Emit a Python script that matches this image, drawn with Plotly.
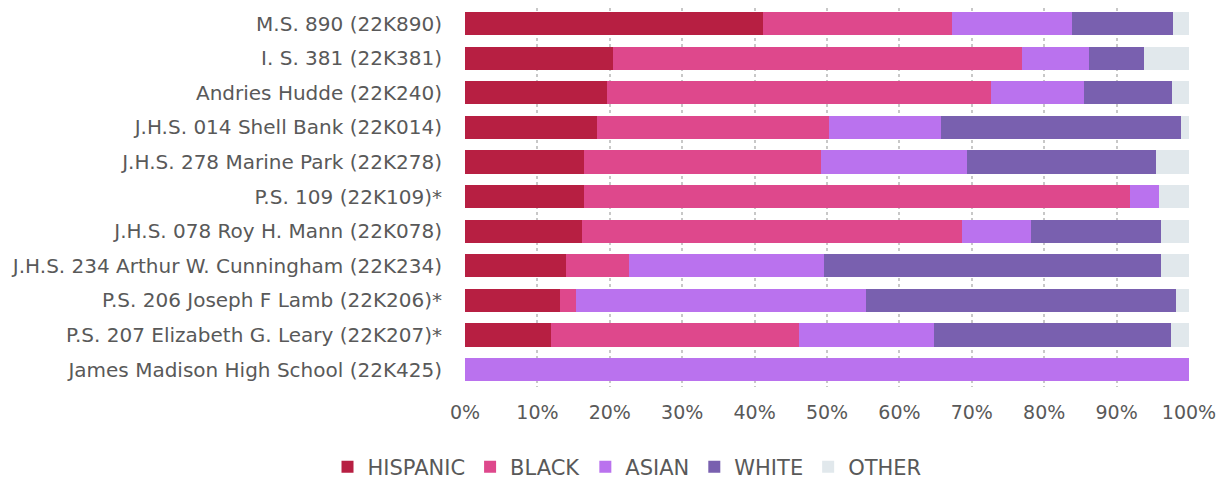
import plotly.graph_objects as go

schools = [
    "M.S. 890 (22K890)",
    "I. S. 381 (22K381)",
    "Andries Hudde (22K240)",
    "J.H.S. 014 Shell Bank (22K014)",
    "J.H.S. 278 Marine Park (22K278)",
    "P.S. 109 (22K109)*",
    "J.H.S. 078 Roy H. Mann (22K078)",
    "J.H.S. 234 Arthur W. Cunningham (22K234)",
    "P.S. 206 Joseph F Lamb (22K206)*",
    "P.S. 207 Elizabeth G. Leary (22K207)*",
    "James Madison High School (22K425)",
]
hispanic = [41.1, 20.4, 19.6, 18.3, 16.5, 16.5, 16.1, 14.0, 13.1, 11.9, 0.0]
black    = [26.1, 56.6, 53.0, 32.0, 32.7, 75.4, 52.6, 8.7, 2.2, 34.3, 0.0]
asian    = [16.6, 9.2, 12.9, 15.4, 20.2, 4.0, 9.5, 26.9, 40.1, 18.6, 100.0]
white    = [14.0, 7.6, 12.2, 33.2, 26.1, 0.0, 18.0, 46.6, 42.8, 32.7, 0.0]
other    = [2.2, 6.2, 2.3, 1.1, 4.5, 4.1, 3.8, 3.8, 1.8, 2.5, 0.0]

series_names = ["HISPANIC", "BLACK", "ASIAN", "WHITE", "OTHER"]
series_vals = [hispanic, black, asian, white, other]
colors = ["#B71F42", "#DE488C", "#BA72EE", "#7960AF", "#E1E8EC"]

tick_vals = [0, 10, 20, 30, 40, 50, 60, 70, 80, 90, 100]
tick_text = [f"{v}%" for v in tick_vals]

fig = go.Figure()
for name, vals, col in zip(series_names, series_vals, colors):
    fig.add_trace(go.Bar(
        y=schools, x=vals, name=name, orientation="h",
        marker=dict(color=col, line=dict(width=0)),
    ))

font_family = "'DejaVu Sans', 'Open Sans', sans-serif"
fig.update_layout(
    barmode="stack",
    bargap=0.33,
    width=1209, height=477,
    margin=dict(l=457, r=28, t=0, b=97.6, autoexpand=False),
    paper_bgcolor="white", plot_bgcolor="white",
    font=dict(family=font_family, size=19, color="#595959"),
    legend=dict(orientation="h", xref="container", x=0.512, xanchor="center",
                yref="container", y=0.0377, yanchor="middle",
                font=dict(size=21, color="#595959"), traceorder="normal",
                itemwidth=30, tracegroupgap=0),
    xaxis=dict(range=[0, 100], tickvals=tick_vals, ticktext=tick_text,
               showgrid=True, gridcolor="#C8C8C8", griddash="dot", gridwidth=1.5,
               zeroline=False, showline=False, ticks="", ticklabelstandoff=12,
               tickfont=dict(size=19, color="#595959")),
    yaxis=dict(categoryorder="array", categoryarray=schools,
               range=[10.5, -0.448],
               showgrid=False, ticks="", ticklabelstandoff=22,
               tickfont=dict(size=20, color="#595959")),
)

fig.write_html("out.html")
